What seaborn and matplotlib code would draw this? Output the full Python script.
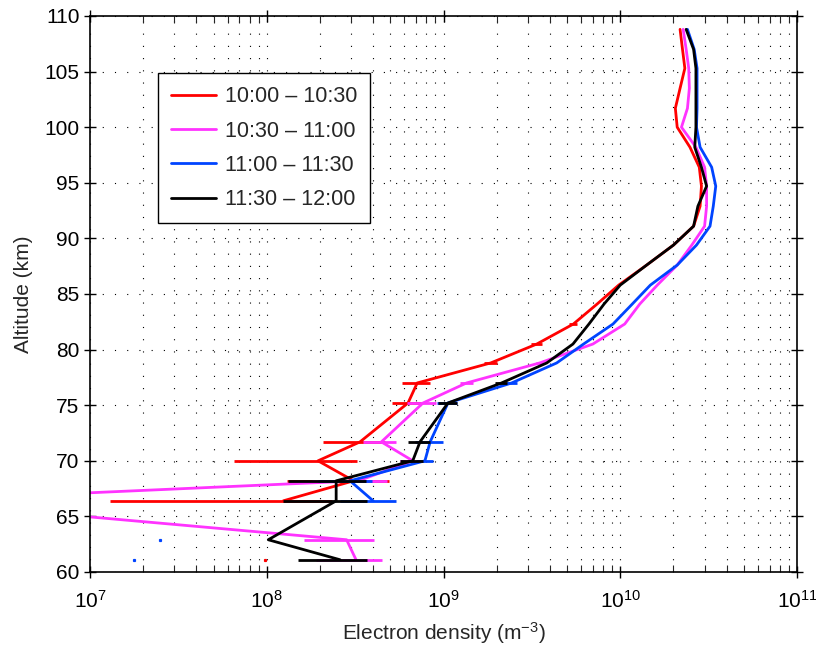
import numpy as np
import matplotlib
matplotlib.use('Agg')
import matplotlib.pyplot as plt
import seaborn as sns
from matplotlib.ticker import LogLocator, NullFormatter, MultipleLocator

# altitude gates (km)
altitude = [61.1, 62.9, 66.4, 68.2, 70.0, 71.7, 75.2, 77.0, 78.8, 80.5, 82.3, 84.1, 85.8,
            87.6, 89.4, 91.1, 92.9, 94.7, 96.4, 98.2, 100.0, 101.7, 103.5, 105.3, 107.0, 108.8]

# electron density (m^-3) per half hour
ne_1000 = [np.nan, np.nan, 1.24e8, 3.1e8, 1.95e8, 3.37e8, 6.3e8, 7.1e8, 1.85e9, 3.37e9, 5.43e9,
           7.4e9, 9.8e9, 1.41e10, 2.0e10, 2.6e10, 2.83e10, 2.88e10, 2.8e10, 2.48e10, 2.1e10,
           2.05e10, 2.18e10, 2.32e10, 2.25e10, 2.18e10]
ne_1030 = [3.2e8, 2.83e8, 9.5e5, 3.3e8, 6.7e8, 4.45e8, 7.66e8, 1.35e9, 3.5e9, 7.0e9, 1.06e10,
           1.29e10, 1.62e10, 2.1e10, 2.54e10, 3.0e10, 3.08e10, 3.08e10, 3.0e10, 2.68e10, 2.22e10,
           2.4e10, 2.46e10, 2.44e10, 2.36e10, 2.27e10]
ne_1100 = [np.nan, np.nan, 4.0e8, 2.96e8, 7.85e8, 8.4e8, 1.06e9, 2.43e9, 4.37e9, 6.2e9, 9.1e9,
           1.17e10, 1.48e10, 2.1e10, 2.7e10, 3.22e10, 3.36e10, 3.47e10, 3.29e10, 2.83e10, 2.7e10,
           2.72e10, 2.72e10, 2.72e10, 2.62e10, 2.4e10]
ne_1130 = [2.6e8, 1.02e8, 2.47e8, 2.47e8, 6.7e8, 7.36e8, 1.06e9, 2.13e9, 3.84e9, 5.4e9, 6.65e9,
           8.1e9, 1.0e10, 1.41e10, 2.0e10, 2.6e10, 2.75e10, 3.08e10, 2.88e10, 2.64e10, 2.68e10,
           2.68e10, 2.68e10, 2.68e10, 2.6e10, 2.36e10]

# error (m^-3)
err_1000 = [np.nan, np.nan, 1.11e8, 1.8e8, 1.3e8, 1.3e8, 1.2e8, 1.3e8, 1.6e8, 2.3e8, 2.8e8,
            0, 0, 0, 0, 0, 0, 0, 0, 0, 0, 0, 0, 0, 0, 0]
err_1030 = [1.3e8, 1.21e8, 0, 1.5e8, 1.0e8, 0.95e8, 1.45e8, 1.1e8, 1.5e8, 0, 0,
            0, 0, 0, 0, 0, 0, 0, 0, 0, 0, 0, 0, 0, 0, 0]
err_1100 = [np.nan, np.nan, 1.4e8, 1.0e8, 0.9e8, 1.5e8, 1.4e8, 1.6e8, 0, 0, 0,
            0, 0, 0, 0, 0, 0, 0, 0, 0, 0, 0, 0, 0, 0, 0]
err_1130 = [1.1e8, 0, 1.24e8, 1.15e8, 1.0e8, 1.05e8, 1.3e8, 1.7e8, 0, 0, 0,
            0, 0, 0, 0, 0, 0, 0, 0, 0, 0, 0, 0, 0, 0, 0]

# isolated samples
dots_1000_ne, dots_1000_alt = [9.8e7], [61.1]
dots_1100_ne, dots_1100_alt = [1.77e7, 2.5e7], [61.1, 62.9]

labels = ['10:00 – 10:30', '10:30 – 11:00', '11:00 – 11:30', '11:30 – 12:00']
colors = ['#ff0000', '#ff33ff', '#0044ff', '#000000']

sns.set_theme(style='ticks')
plt.rcParams['font.family'] = ['Liberation Sans', 'DejaVu Sans']
plt.rcParams['mathtext.fontset'] = 'custom'
plt.rcParams['mathtext.rm'] = 'Liberation Sans'
plt.rcParams['mathtext.it'] = 'Liberation Sans'

fig = plt.figure(figsize=(8.16, 6.49), dpi=100)
ax = fig.add_axes([90/816, 77/649, 707/816, 556/649])
ax.set_xscale('log')

series = [(ne_1000, err_1000), (ne_1030, err_1030), (ne_1100, err_1100), (ne_1130, err_1130)]
for (ne, err), lab, c in zip(series, labels, colors):
    sns.lineplot(x=ne, y=altitude, sort=False, orient='y', estimator=None,
                 color=c, lw=2.0, label=lab, ax=ax)
    ax.errorbar(ne, altitude, xerr=err, fmt='none', ecolor=c, elinewidth=2.0, capsize=0)

ax.plot(dots_1000_ne, dots_1000_alt, 's', ms=1.3, color=colors[0])
ax.plot(dots_1100_ne, dots_1100_alt, 's', ms=1.3, color=colors[2])

ax.set_xlim(1e7, 1e11)
ax.set_ylim(60, 110)
ax.xaxis.set_major_locator(LogLocator(base=10, numticks=10))
ax.xaxis.set_minor_locator(LogLocator(base=10, subs=np.arange(2, 10), numticks=20))
ax.xaxis.set_minor_formatter(NullFormatter())
ax.yaxis.set_major_locator(MultipleLocator(5))

dots = (0, (1, 10))
ax.grid(True, which='major', color='black', lw=0.8, linestyle=dots)
ax.grid(True, which='minor', axis='x', color='black', lw=0.8, linestyle=dots)

for s in ax.spines.values():
    s.set_linewidth(1.2)
    s.set_color('black')
ax.tick_params(which='major', direction='inout', length=8, width=1.0, labelsize=15,
               top=True, right=True, colors='black')
ax.tick_params(axis='x', which='major', pad=9)
ax.tick_params(which='minor', direction='in', length=5, width=0.8, top=True, right=True)

ax.set_xlabel('Electron density (m$^{-3}$)', fontsize=15, labelpad=6)
ax.set_ylabel('Altitude (km)', fontsize=15, labelpad=8)

leg = ax.legend(loc='upper left', bbox_to_anchor=(0.096, 0.897), borderaxespad=0,
                fontsize=15.5, frameon=True, fancybox=False, edgecolor='black', framealpha=1,
                handlelength=2.1, labelspacing=0.62, borderpad=0.6, handletextpad=0.4)
leg.get_frame().set_linewidth(1.0)

fig.savefig('out.png', dpi=100)
